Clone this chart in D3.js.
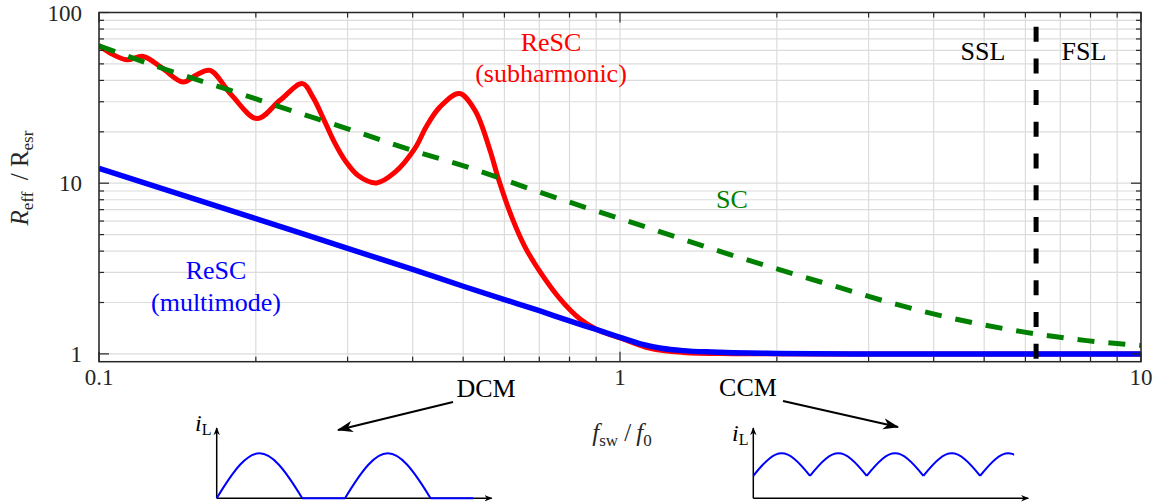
<!DOCTYPE html>
<html>
<head>
<meta charset="utf-8">
<script src="https://cdn.jsdelivr.net/npm/d3@7"></script>
<style>
  body { margin: 0; background: #fff; }
  text { font-family: "Liberation Serif", "Times New Roman", serif; }
</style>
</head>
<body>
<div id="chart"></div>
<script>
// ---- data ----
// frequency ratio f_sw/f_0 and normalised resistance
const scFreq = [0.1, 0.1349, 0.177, 0.2309, 0.3032, 0.3954, 0.519, 0.677, 0.882, 1.158, 1.51, 1.984, 2.605, 3.397, 4.494, 5.90, 7.87, 10];
const scRes  = [63.7, 46.2, 35.3, 27.0, 20.6, 15.7, 12.2, 9.19, 7.02, 5.36, 4.10, 3.17, 2.475, 1.948, 1.58, 1.35, 1.196, 1.12];

const subFreq = [0.1, 0.1057, 0.113, 0.1216, 0.1319, 0.145, 0.154, 0.1634, 0.1798, 0.201, 0.2225, 0.2458, 0.2575, 0.2715, 0.2838, 0.2966, 0.3142, 0.341, 0.37, 0.404, 0.425, 0.451, 0.4915, 0.5268, 0.5629, 0.584, 0.6196, 0.657, 0.702, 0.767, 0.838, 0.902, 1, 1.142, 1.32, 1.65, 2.5, 10];
const subRes  = [64.1, 57.3, 52.9, 55.3, 47.5, 39.1, 43.2, 45.8, 32.7, 23.9, 30.6, 38.3, 31.8, 22.8, 17.1, 13.6, 11.1, 10.04, 11.6, 16.0, 21.5, 27.9, 33.5, 26.7, 15.6, 10.65, 6.35, 4.24, 3.03, 2.1, 1.6, 1.39, 1.24, 1.077, 1.02, 1.003, 1.0, 1.0];

const multiFreq = [0.1, 0.2, 0.3, 0.4, 0.5, 0.6, 0.7, 0.8, 0.9, 1.0, 1.1, 1.2, 1.32, 1.5, 1.65, 2.0, 2.8, 10];
const multiRes  = [12.2, 6.2, 4.15, 3.13, 2.49, 2.08, 1.79, 1.56, 1.39, 1.25, 1.14, 1.08, 1.045, 1.025, 1.016, 1.006, 1.0, 1.0];

const boundaryFreq = 6.29;   // SSL / FSL limit

const xTickVals = [0.1, 1, 10];
const yTickVals = [1, 10, 100];
const xTickLabels = ["0.1", "1", "10"];
const yTickLabels = ["1", "10", "100"];

// inset waveforms (time in arch units, level 0..1)
const dcmArches = [[0, 2], [3, 5]];
const dcmFlats = [[2, 3], [5, 6]];
const ccmArches = [[0, 1], [1, 2], [2, 3], [3, 4], [4, 5]];
const ccmEnd = 4.6;

const width = 1162, height = 504;
const margin = { left: 99, right: 21, top: 12.5, bottom: 142.3 };

const svg = d3.select("#chart").append("svg")
    .attr("width", width)
    .attr("height", height);

const x = d3.scaleLog().domain([0.1, 10]).range([margin.left, width - margin.right]);
const y = d3.scaleLog().domain([0.9, 100]).range([height - margin.bottom, margin.top]);

const x0 = x.range()[0], x1 = x.range()[1];
const yB = y.range()[0], yT = y.range()[1];

// minor/major tick values
const xAll = [];
[0.1, 1].forEach(d => { for (let k = 1; k <= 9; k++) xAll.push(d * k); });
xAll.push(10);
const yAll = [];
[1, 10].forEach(d => { for (let k = 1; k <= 9; k++) yAll.push(d * k); });
yAll.push(100);

const isMajor = v => Math.abs(Math.log10(v) - Math.round(Math.log10(v))) < 1e-9;

// grid
svg.append("g").selectAll("line").data(xAll).enter().append("line")
    .attr("x1", d => x(d)).attr("x2", d => x(d))
    .attr("y1", yT).attr("y2", yB)
    .attr("stroke", "#dcdcdc").attr("stroke-width", 1.2);
svg.append("g").selectAll("line").data(yAll).enter().append("line")
    .attr("x1", x0).attr("x2", x1)
    .attr("y1", d => y(d)).attr("y2", d => y(d))
    .attr("stroke", "#dcdcdc").attr("stroke-width", 1.2);

// clip
svg.append("defs").append("clipPath").attr("id", "plot")
    .append("rect").attr("x", x0).attr("y", yT).attr("width", x1 - x0).attr("height", yB - yT);

const line = d3.line().curve(d3.curveMonotoneX);
const smooth = d3.line().curve(d3.curveCatmullRom.alpha(0.5));
const pts = (fs, rs) => fs.map((f, i) => [x(f), y(rs[i])]);

const plot = svg.append("g").attr("clip-path", "url(#plot)");

plot.append("path")
    .attr("d", smooth(pts(subFreq, subRes)))
    .attr("fill", "none").attr("stroke", "#ff0000").attr("stroke-width", 5);

plot.append("path")
    .attr("d", line(pts(multiFreq, multiRes)))
    .attr("fill", "none").attr("stroke", "#0000ff").attr("stroke-width", 5.5);

plot.append("path")
    .attr("d", line(pts(scFreq, scRes)))
    .attr("fill", "none").attr("stroke", "#008000").attr("stroke-width", 5)
    .attr("stroke-dasharray", "17,14");

plot.append("line")
    .attr("x1", x(boundaryFreq)).attr("x2", x(boundaryFreq))
    .attr("y1", yT).attr("y2", yB)
    .attr("stroke", "#000").attr("stroke-width", 5)
    .attr("stroke-dasharray", "15,16.7").attr("stroke-dashoffset", 17.5);

// axes box with inward ticks
const axisColor = "#262626";
const ticks = svg.append("g").attr("stroke", axisColor).attr("stroke-width", 1.2);
xAll.forEach(v => {
    const len = isMajor(v) ? 10 : 5;
    ticks.append("line").attr("x1", x(v)).attr("x2", x(v)).attr("y1", yB).attr("y2", yB - len);
    ticks.append("line").attr("x1", x(v)).attr("x2", x(v)).attr("y1", yT).attr("y2", yT + len);
});
yAll.forEach(v => {
    const len = isMajor(v) ? 10 : 5;
    ticks.append("line").attr("x1", x0).attr("x2", x0 + len).attr("y1", y(v)).attr("y2", y(v));
    ticks.append("line").attr("x1", x1).attr("x2", x1 - len).attr("y1", y(v)).attr("y2", y(v));
});
svg.append("rect")
    .attr("x", x0).attr("y", yT).attr("width", x1 - x0).attr("height", yB - yT)
    .attr("fill", "none").attr("stroke", axisColor).attr("stroke-width", 1.5);

// tick labels
svg.append("g").selectAll("text").data(xTickVals).enter().append("text")
    .attr("x", d => x(d)).attr("y", yB + 23)
    .attr("text-anchor", "middle").attr("font-size", 23).attr("fill", "#262626")
    .text((d, i) => xTickLabels[i]);
svg.append("g").selectAll("text").data(yTickVals).enter().append("text")
    .attr("x", x0 - 17).attr("y", d => y(d)).attr("dy", "0.35em")
    .attr("text-anchor", "end").attr("font-size", 23).attr("fill", "#262626")
    .text((d, i) => yTickLabels[i]);

// axis titles
const yl = svg.append("text")
    .attr("transform", "translate(28,178) rotate(-90)")
    .attr("text-anchor", "middle").attr("font-size", 25).attr("fill", "#262626");
yl.append("tspan").attr("font-style", "italic").text("R");
yl.append("tspan").attr("font-size", 17).attr("dy", 5).text("eff");
yl.append("tspan").attr("dy", -5).text("\u2009 / R");
yl.append("tspan").attr("font-size", 17).attr("dy", 5).text("esr");

const xl = svg.append("text")
    .attr("x", 622).attr("y", 441)
    .attr("text-anchor", "middle").attr("font-size", 25).attr("fill", "#262626");
xl.append("tspan").attr("font-style", "italic").text("f");
xl.append("tspan").attr("font-size", 17).attr("dy", 5).text("sw");
xl.append("tspan").attr("dy", -5).text(" /\u2009");
xl.append("tspan").attr("font-style", "italic").text("f");
xl.append("tspan").attr("font-size", 17).attr("dy", 5).text("0");

// curve labels
const label = (tx, ty, txt, col) => svg.append("text")
    .attr("x", tx).attr("y", ty).attr("text-anchor", "middle")
    .attr("font-size", 26).attr("fill", col).text(txt);
label(551, 51, "ReSC", "#ff0000");
label(551, 82, "(subharmonic)", "#ff0000");
label(732, 208, "SC", "#008000");
label(216, 279, "ReSC", "#0000ff");
label(216, 311, "(multimode)", "#0000ff");
label(983, 60, "SSL", "#000");
label(1084, 60, "FSL", "#000");
label(486, 397, "DCM", "#000");
label(748, 396, "CCM", "#000");

// arrows
const defs = svg.select("defs");
defs.append("marker").attr("id", "bigArrow")
    .attr("viewBox", "0 -5 14 10").attr("refX", 13).attr("refY", 0)
    .attr("markerUnits", "userSpaceOnUse")
    .attr("markerWidth", 16).attr("markerHeight", 12).attr("orient", "auto")
    .append("path").attr("d", "M0,-5 L14,0 L0,5 L4,0 Z").attr("fill", "#000");
defs.append("marker").attr("id", "smallArrow")
    .attr("viewBox", "0 -4 10 8").attr("refX", 9).attr("refY", 0)
    .attr("markerUnits", "userSpaceOnUse")
    .attr("markerWidth", 8).attr("markerHeight", 7).attr("orient", "auto")
    .append("path").attr("d", "M0,-4 L10,0 L0,4 L3,0 Z").attr("fill", "#000");

svg.append("line").attr("x1", 453).attr("y1", 402).attr("x2", 338).attr("y2", 430)
    .attr("stroke", "#000").attr("stroke-width", 2.2).attr("marker-end", "url(#bigArrow)");
svg.append("line").attr("x1", 783).attr("y1", 401).attr("x2", 898).attr("y2", 427)
    .attr("stroke", "#000").attr("stroke-width", 2.2).attr("marker-end", "url(#bigArrow)");

// insets
function arch(p, sx, sy, a, b, lo, hi) {
    const w = sx(b) - sx(a);
    const c = 4 * w / (3 * Math.PI);
    const yl0 = sy(lo), ctrl = sy(lo + (hi - lo) * 4 / 3);
    p.moveTo(sx(a), yl0);
    p.bezierCurveTo(sx(a) + c, ctrl, sx(b) - c, ctrl, sx(b), yl0);
}

function inset(ox, tMax, archList, flats, lo, endT, labelPos) {
    const sx = d3.scaleLinear().domain([0, tMax]).range([ox, ox + 275]);
    const sy = d3.scaleLinear().domain([0, 1]).range([498.3, 453.3]);
    const g = svg.append("g");
    const id = "clip" + Math.round(ox);
    defs.append("clipPath").attr("id", id).append("rect")
        .attr("x", ox - 2).attr("y", 440).attr("width", sx(endT) - ox + 2).attr("height", 62);
    const p = d3.path();
    archList.forEach(([a, b]) => arch(p, sx, sy, a, b, lo, 1));
    flats.forEach(([a, b]) => { p.moveTo(sx(a), sy(0)); p.lineTo(sx(b), sy(0)); });
    g.append("line").attr("x1", ox).attr("y1", 498.3).attr("x2", ox + 275).attr("y2", 498.3)
        .attr("stroke", "#000").attr("stroke-width", 1.5).attr("marker-end", "url(#smallArrow)");
    g.append("line").attr("x1", ox).attr("y1", 498.3).attr("x2", ox).attr("y2", 428)
        .attr("stroke", "#000").attr("stroke-width", 1.5).attr("marker-end", "url(#smallArrow)");
    g.append("path").attr("d", p.toString()).attr("clip-path", `url(#${id})`)
        .attr("fill", "none").attr("stroke", "#0000ff").attr("stroke-width", 2);
    const t = g.append("text").attr("x", labelPos[0]).attr("y", labelPos[1])
        .attr("font-size", 24).attr("fill", "#000");
    t.append("tspan").attr("font-style", "italic").text("i");
    t.append("tspan").attr("font-size", 16).attr("dy", 4).text("L");
}

inset(216.7, 6.43, dcmArches, dcmFlats, 0, 6.0, [195, 431]);
inset(753.3, 4.85, ccmArches, [], 0.5, ccmEnd, [732, 441]);
</script>
</body>
</html>
